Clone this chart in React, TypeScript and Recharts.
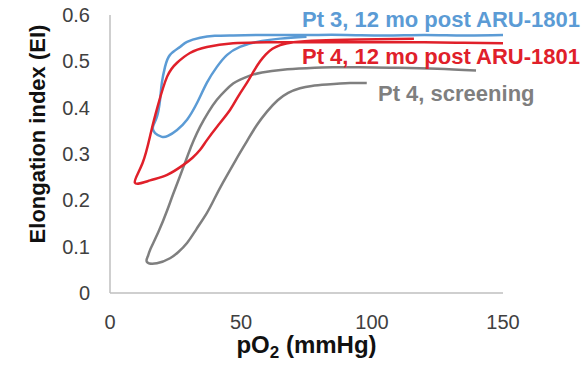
import { LineChart, Line, XAxis, YAxis, Label } from 'recharts'

// pO2 (mmHg) / elongation index pairs, traced in drawing order (each curve is a loop)
const pt3PostPo2 = [150, 135, 120, 105, 90, 75, 60, 47, 40, 34.4, 29.4, 26.7, 22.9, 21, 19.8, 19.1, 17.9, 16.4, 17.2, 19.8, 22.1, 25.6, 29.4, 33.2, 37, 40.8, 44.7, 49.6, 56.1, 64.9, 75]
const pt3PostEi = [0.557, 0.556, 0.557, 0.556, 0.557, 0.557, 0.557, 0.556, 0.555, 0.551, 0.542, 0.531, 0.514, 0.488, 0.454, 0.417, 0.38, 0.359, 0.345, 0.337, 0.339, 0.352, 0.374, 0.41, 0.454, 0.488, 0.514, 0.531, 0.542, 0.549, 0.553]

const pt4PostPo2 = [150, 135, 120, 100, 80, 60, 47, 37, 30.5, 25.6, 21.8, 18.3, 15.6, 12.4, 9.5, 15.3, 21.8, 27.9, 31.5, 34.4, 37, 41, 45.8, 49, 52.3, 55, 57.3, 59.5, 62, 65, 70, 80, 95, 116]
const pt4PostEi = [0.539, 0.54, 0.541, 0.541, 0.541, 0.541, 0.539, 0.531, 0.518, 0.497, 0.467, 0.405, 0.346, 0.28, 0.238, 0.243, 0.255, 0.276, 0.292, 0.309, 0.33, 0.36, 0.395, 0.425, 0.454, 0.48, 0.5, 0.515, 0.527, 0.535, 0.541, 0.545, 0.547, 0.549]

const pt4ScreenPo2 = [139.7, 125, 110, 95, 85, 75, 66, 58, 53.4, 49.5, 47, 44, 40.8, 37.5, 34.4, 32, 29.8, 26.7, 24, 21.8, 18.5, 15.3, 14.5, 14.1, 17.9, 22.9, 26, 29.4, 33, 37, 40, 43.1, 48, 52.3, 56, 60, 64, 68, 72.5, 77, 82.8, 91.6, 98]
const pt4ScreenEi = [0.48, 0.484, 0.486, 0.487, 0.487, 0.485, 0.482, 0.476, 0.469, 0.46, 0.452, 0.437, 0.417, 0.39, 0.359, 0.33, 0.299, 0.252, 0.212, 0.178, 0.132, 0.093, 0.08, 0.067, 0.064, 0.075, 0.088, 0.108, 0.138, 0.173, 0.205, 0.238, 0.287, 0.328, 0.362, 0.392, 0.416, 0.432, 0.442, 0.447, 0.45, 0.453, 0.453]

const xTicks = [0, 50, 100, 150]
const yTicks = [0, 0.1, 0.2, 0.3, 0.4, 0.5, 0.6]

const BLUE = '#5B9BD5'
const RED = '#E0202A'
const GRAY = '#7F7F7F'
const FONT = '"Liberation Sans", Arial, sans-serif'

const toPoints = (xs: number[], ys: number[]) => xs.map((x, i) => ({ x, y: ys[i] }))

const pt3Post = toPoints(pt3PostPo2, pt3PostEi)
const pt4Post = toPoints(pt4PostPo2, pt4PostEi)
const pt4Screen = toPoints(pt4ScreenPo2, pt4ScreenEi)

export default function App() {
  return (
    <div style={{ position: 'fixed', left: 0, top: 0, width: 588, height: 368, background: '#fff', fontFamily: FONT }}>
      <LineChart width={588} height={368} margin={{ top: 15, right: 85, left: 0, bottom: 0 }}>
        <XAxis
          dataKey="x"
          type="number"
          domain={[0, 150]}
          ticks={xTicks}
          height={75}
          tickLine={false}
          tickMargin={16}
          axisLine={{ stroke: '#BFBFBF', strokeWidth: 1.5 }}
          tick={{ fill: '#404040', fontSize: 20, fontFamily: FONT }}
          allowDuplicatedCategory={false}
        >
          <Label
            content={({ viewBox }: any) => (
              <text
                x={viewBox.x + viewBox.width / 2}
                y={353}
                textAnchor="middle"
                fontFamily={FONT}
                fontWeight="bold"
                fontSize={24}
                fill="#111"
              >
                pO<tspan fontSize={17} dy={5}>2</tspan>
                <tspan dy={-5}> (mmHg)</tspan>
              </text>
            )}
          />
        </XAxis>
        <YAxis
          type="number"
          domain={[0, 0.6]}
          ticks={yTicks}
          width={110}
          tickLine={false}
          tickMargin={14}
          axisLine={{ stroke: '#BFBFBF', strokeWidth: 1.5 }}
          tick={{ fill: '#404040', fontSize: 20, fontFamily: FONT }}
        >
          <Label
            content={() => (
              <text
                x={37}
                y={134}
                transform="rotate(-90 37 134)"
                textAnchor="middle"
                dominantBaseline="central"
                fontFamily={FONT}
                fontWeight="bold"
                fontSize={22}
                fill="#111"
              >
                Elongation index (EI)
              </text>
            )}
          />
        </YAxis>

        <Line data={pt4Screen} dataKey="y" type="natural" stroke={GRAY} strokeWidth={2.5} dot={false} isAnimationActive={false} strokeLinejoin="round" />
        <Line data={pt3Post} dataKey="y" type="natural" stroke={BLUE} strokeWidth={2.5} dot={false} isAnimationActive={false} strokeLinejoin="round" />
        <Line data={pt4Post} dataKey="y" type="natural" stroke={RED} strokeWidth={2.5} dot={false} isAnimationActive={false} strokeLinejoin="round" />
      </LineChart>

      {/* series annotations */}
      <svg width={588} height={368} style={{ position: 'absolute', left: 0, top: 0, pointerEvents: 'none' }}>
        <text x={302} y={27} fontFamily={FONT} fontWeight="bold" fontSize={22} fill={BLUE}>Pt 3, 12 mo post ARU-1801</text>
        <text x={302} y={64} fontFamily={FONT} fontWeight="bold" fontSize={22} fill={RED}>Pt 4, 12 mo post ARU-1801</text>
        <text x={378} y={101} fontFamily={FONT} fontWeight="bold" fontSize={22} fill={GRAY}>Pt 4, screening</text>
      </svg>
    </div>
  )
}
